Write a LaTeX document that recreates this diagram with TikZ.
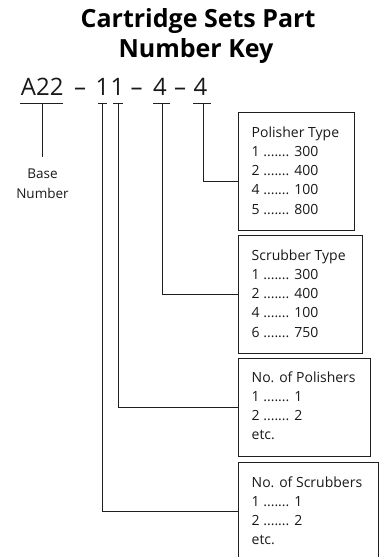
\documentclass[tikz,border=0pt]{standalone}
\usepackage{fontspec}
\setmainfont{Open Sans}
\usetikzlibrary{calc}
\newcommand{\keylines}[1]{\vtop{\halign{##\hfil\cr#1\crcr}}}
\newcommand{\centerlines}[1]{\vtop{\halign{\hfil##\hfil\cr#1\crcr}}}
\begin{document}
\begin{tikzpicture}[x=1pt,y=-1pt,
  ln/.style={line width=1pt, draw=black!88},
  keybox/.style={ln, rectangle, anchor=north west, inner sep=0pt},
  keytext/.style={anchor=base west, inner sep=0pt, font=\fontsize{14}{19.25}\selectfont, text=black!90},
  ttl/.style={inner sep=0pt, anchor=base, font=\bfseries\fontsize{25}{30}\selectfont},
  num/.style={inner sep=0pt, anchor=base, font=\fontsize{24}{24}\selectfont, text=black!90}
]
\useasboundingbox (0,0) rectangle (383,557);
\clip (0,0) rectangle (383,557);
% title
\node[ttl] (t1) at (198,27.5) {Cartridge Sets Part};
\node[ttl] (t2) at (196,57.5) {Number Key};
% part number
\node[num] (pa) at (42.3,95) {A22};
\node[num] (d1) at (80,95) {--};
\node[num] (pb) at (102.5,95) {1};
\node[num] (pc) at (117.5,95) {1};
\node[num] (d2) at (136.5,95) {--};
\node[num] (pd) at (160,95) {4};
\node[num] (d3) at (180,95) {--};
\node[num] (pe) at (200.5,95) {4};
% underline coordinates
\coordinate (ua1) at (20,103.3); \coordinate (ua2) at (63,103.3); \coordinate (ua) at (42,103.3);
\coordinate (ub1) at (98,103.3); \coordinate (ub2) at (107,103.3); \coordinate (ub) at (102,103.3);
\coordinate (uc1) at (113,103.3); \coordinate (uc2) at (123,103.3); \coordinate (uc) at (118,103.3);
\coordinate (ud1) at (153,103.3); \coordinate (ud2) at (170,103.3); \coordinate (ud) at (162,103.3);
\coordinate (ue1) at (193,103.3); \coordinate (ue2) at (211,103.3); \coordinate (ue) at (203,103.3);
\draw[ln] (ua1) -- (ua2); \draw[ln] (ub1) -- (ub2); \draw[ln] (uc1) -- (uc2);
\draw[ln] (ud1) -- (ud2); \draw[ln] (ue1) -- (ue2);
% base number
\coordinate (abot) at (42,157);
\draw[ln] (ua) -- (abot);
\node[inner sep=0pt, anchor=base, font=\fontsize{13.5}{20}\selectfont, text=black!90] (base) at (42.5,178) {\centerlines{Base\cr Number}};
% boxes
\node[keybox, minimum width=116pt, minimum height=118pt] (pbox) at (238,112) {};
\node[keytext] (ptext) at (251.5,137) {\keylines{Polisher Type\cr 1 ....... 300\cr 2 ....... 400\cr 4 ....... 100\cr 5 ....... 800}};
\node[keybox, minimum width=124pt, minimum height=118pt] (sbox) at (238,235) {};
\node[keytext] (stext) at (251.5,260) {\keylines{Scrubber Type\cr 1 ....... 300\cr 2 ....... 400\cr 4 ....... 100\cr 6 ....... 750}};
\node[keybox, minimum width=132pt, minimum height=98pt] (npbox) at (238,358) {};
\node[keytext] (nptext) at (251.5,382) {\keylines{No. of Polishers\cr 1 ....... 1\cr 2 ....... 2\cr etc.}};
\node[keybox, minimum width=140pt, minimum height=120pt] (nsbox) at (238,462) {};
\node[keytext] (nstext) at (251.5,487) {\keylines{No. of Scrubbers\cr 1 ....... 1\cr 2 ....... 2\cr etc.}};
% connectors
\draw[ln] (ue) |- ($(pbox.north west)+(0,69.5)$);
\draw[ln] (ud) |- ($(sbox.north west)+(0,59)$);
\draw[ln] (uc) |- ($(npbox.north west)+(0,49)$);
\draw[ln] (ub) |- ($(nsbox.north west)+(0,49)$);
\end{tikzpicture}
\end{document}
